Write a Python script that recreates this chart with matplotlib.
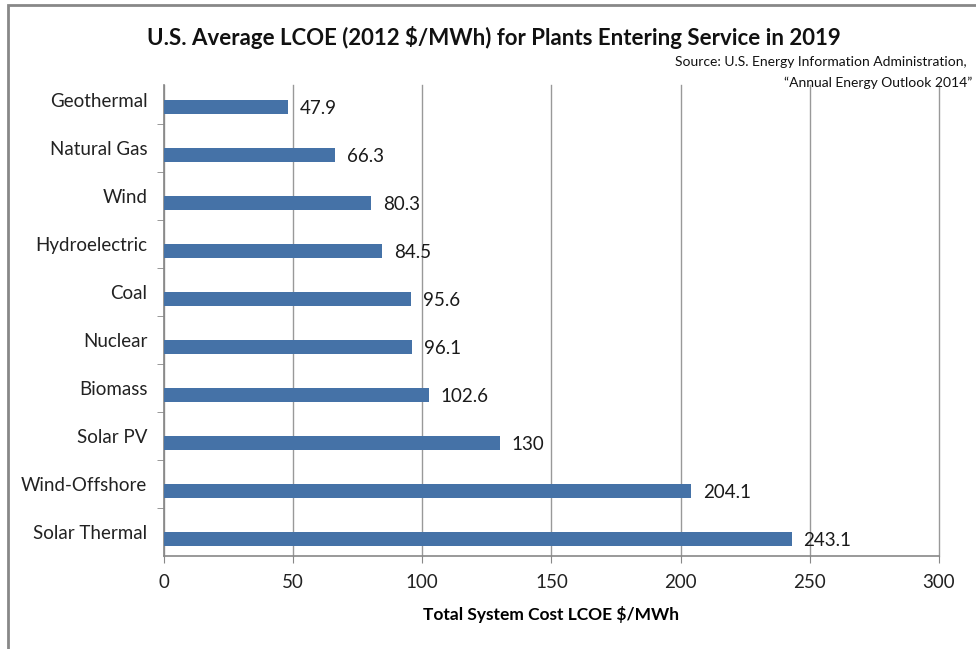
import numpy as np
import matplotlib
matplotlib.use('Agg')
import matplotlib.pyplot as plt
from matplotlib.patches import Rectangle

plt.rcParams['font.family'] = ['Lato', 'DejaVu Sans']

# Data
technologies = ['Geothermal', 'Natural Gas', 'Wind', 'Hydroelectric', 'Coal',
                'Nuclear', 'Biomass', 'Solar PV', 'Wind-Offshore', 'Solar Thermal']
lcoe = [47.9, 66.3, 80.3, 84.5, 95.6, 96.1, 102.6, 130, 204.1, 243.1]
value_labels = ['47.9', '66.3', '80.3', '84.5', '95.6', '96.1', '102.6', '130', '204.1', '243.1']
x_ticks = [0, 50, 100, 150, 200, 250, 300]

fig = plt.figure(figsize=(9.76, 6.49), dpi=100)
ax = fig.add_axes([0.168, 0.1433, 0.794, 0.7257])

pos = np.arange(len(technologies))
bars = ax.barh(pos + 0.15, lcoe, height=0.29, color='#4572A7', zorder=3)

for b, lab in zip(bars, value_labels):
    ax.text(b.get_width() + 4.5, b.get_y() + b.get_height() / 2 + 0.02, lab,
            va='center', ha='left', fontsize=13.5, color='#1a1a1a', zorder=4)

ax.set_xlim(0, 300)
ax.set_ylim(9.5, -0.31)
ax.set_xticks(x_ticks)
ax.set_xticklabels([str(t) for t in x_ticks], fontsize=13.5, color='#222222')
ax.set_yticks(pos)
ax.set_yticklabels(technologies, fontsize=13.5, color='#222222')
ax.set_yticks(np.arange(0.5, 9.5, 1.0), minor=True)

ax.tick_params(axis='y', which='major', length=0, pad=12)
ax.tick_params(axis='y', which='minor', length=5, color='#888888', direction='out')
ax.tick_params(axis='x', which='major', length=5, color='#888888', pad=8)

ax.grid(axis='x', color='#999999', linewidth=1, zorder=0)
for gl in ax.get_xgridlines():
    gl.set_clip_on(False)
for s in ['top', 'right']:
    ax.spines[s].set_visible(False)
for s in ['left', 'bottom']:
    ax.spines[s].set_color('#888888')
    ax.spines[s].set_linewidth(1.2)

ax.set_xlabel('Total System Cost LCOE $/MWh', fontsize=12.5, fontweight='bold', labelpad=11)

fig.text(0.506, 0.942, 'U.S. Average LCOE (2012 $/MWh) for Plants Entering Service in 2019',
         ha='center', va='center', fontsize=16, fontweight='bold', color='#111111')
fig.text(0.990, 0.904, 'Source: U.S. Energy Information Administration,',
         ha='right', va='center', fontsize=10, color='#111111')
fig.text(0.996, 0.873, '\u201cAnnual Energy Outlook 2014\u201d',
         ha='right', va='center', fontsize=10, color='#111111')

# chart border
fig.patches.append(Rectangle((8 / 976, -0.1), 1.2, 1.1 - 5 / 649, transform=fig.transFigure,
                             fill=False, edgecolor='#888888', linewidth=2))

fig.savefig('out.png', dpi=100, facecolor='white')
